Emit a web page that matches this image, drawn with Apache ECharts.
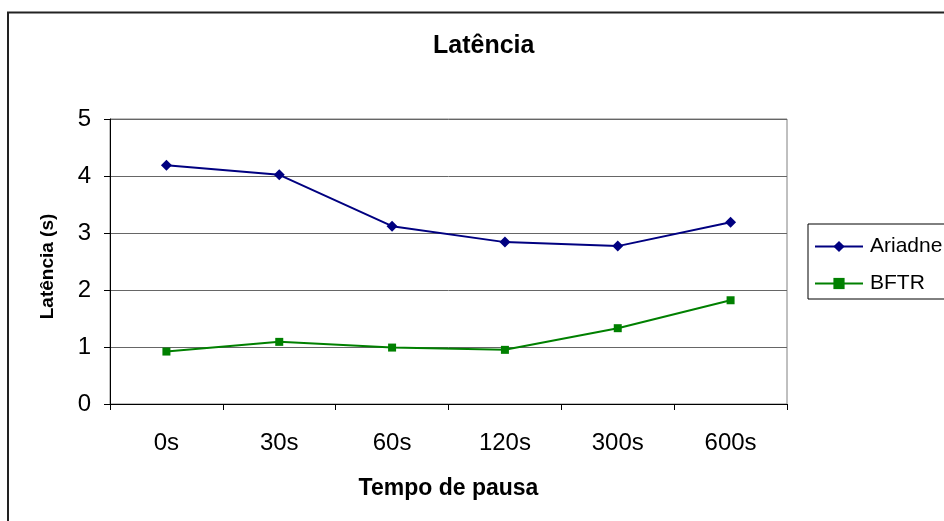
<!DOCTYPE html>
<html><head><meta charset="utf-8">
<script src="https://cdn.jsdelivr.net/npm/echarts@6/dist/echarts.min.js"></script>
<style>html,body{margin:0;padding:0;background:#fff}#c{width:944px;height:521px}</style>
</head><body><div id="c"></div>
<script>
const categories = ['0s','30s','60s','120s','300s','600s'];
const ariadne = [4.19, 4.02, 3.12, 2.84, 2.77, 3.19];
const bftr = [0.92, 1.09, 0.99, 0.95, 1.33, 1.82];
const yTicks = [0,1,2,3,4,5];
const F = '"Liberation Sans", Arial, sans-serif';
const chart = echarts.init(document.getElementById('c'));
chart.setOption({
  animation:false,
  backgroundColor:'#fff',
  graphic:[{type:'rect',shape:{x:8,y:12.5,width:980,height:560},style:{fill:'none',stroke:'#222',lineWidth:2},silent:true,z:-1}],
  title:{text:'Latência',left:433,top:34,itemGap:0,padding:0,textStyle:{fontFamily:F,fontSize:25,fontWeight:'bold',color:'#000'}},
  grid:{left:110,right:157,top:119,bottom:117,show:true,borderColor:'#808080',borderWidth:1},
  legend:{orient:'vertical',left:808,top:224,width:200,padding:[12,40,5,6],itemGap:16,itemWidth:48,itemHeight:14,
    borderColor:'#000',borderWidth:1,backgroundColor:'#fff',
    textStyle:{fontFamily:F,fontSize:21,lineHeight:20,color:'#000',padding:[0,0,0,2]},
    data:['Ariadne','BFTR']},
  xAxis:{type:'category',data:categories,boundaryGap:true,
    axisLine:{lineStyle:{color:'#000'}},axisTick:{show:true,length:6,inside:false,lineStyle:{color:'#000'}},
    axisLabel:{fontFamily:F,fontSize:24,color:'#000',margin:27},
    name:'Tempo de pausa',nameLocation:'middle',nameGap:73,
    nameTextStyle:{fontFamily:F,fontSize:23,fontWeight:'bold',color:'#000'}},
  yAxis:{type:'value',min:yTicks[0],max:yTicks[yTicks.length-1],interval:1,
    axisLine:{show:true,lineStyle:{color:'#000'}},axisTick:{show:true,length:6,lineStyle:{color:'#000'}},
    axisLabel:{fontFamily:F,fontSize:24,color:'#000',margin:19},
    splitLine:{lineStyle:{color:'#666',width:1}},
    name:'Latência (s)',nameLocation:'middle',nameGap:53,
    nameTextStyle:{fontFamily:F,fontSize:19,fontWeight:'bold',color:'#000',padding:[0,0,0,-10]}},
  series:[
    {name:'Ariadne',type:'line',data:ariadne,symbol:'diamond',symbolSize:11,
      lineStyle:{color:'#000080',width:2},itemStyle:{color:'#000080'}},
    {name:'BFTR',type:'line',data:bftr,symbol:'rect',symbolSize:8,
      lineStyle:{color:'#008000',width:2},itemStyle:{color:'#008000'}}
  ]
});
</script></body></html>
